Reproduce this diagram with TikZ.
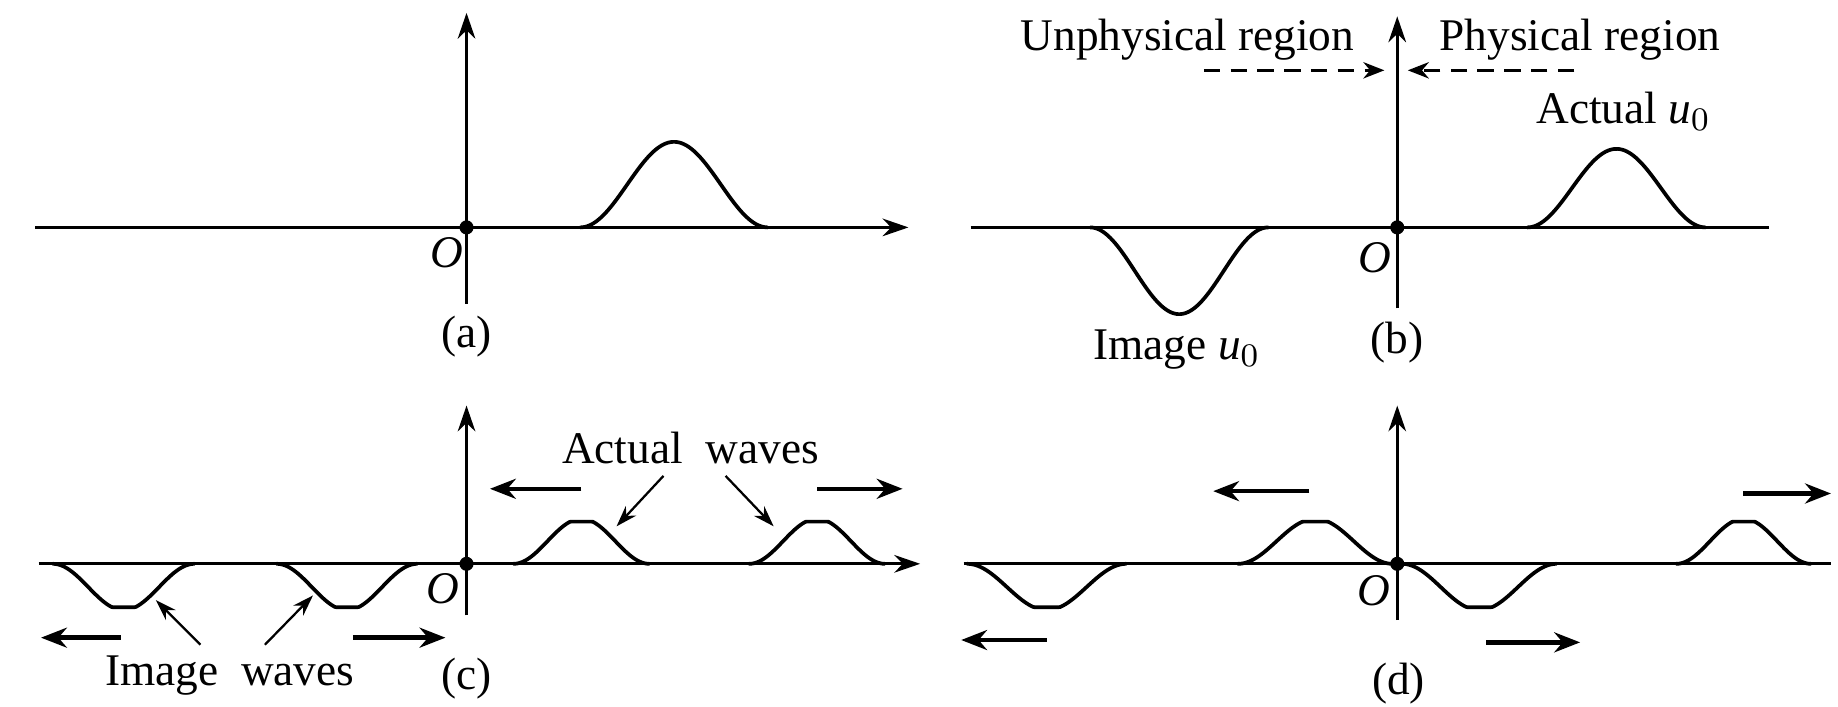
\documentclass[tikz,border=0pt]{standalone}
\usepackage{fontspec}
\setmainfont{Liberation Serif}
\usetikzlibrary{arrows.meta}
\newcommand{\bellwave}[4]{\draw[wave] plot[domain=0:1,samples=80] ({#1+(#2-#1)*\x},{#3-(#4)*(1-cos(360*\x))/2});}
\newcommand{\flatwave}[4]{\draw[wave] plot[domain=0:1,samples=100] ({#1+(#2-#1)*\x},{#3-(#4)*min(1,1.07*(1-cos(360*\x))/2)});}
\begin{document}
\begin{tikzpicture}[x=0.1mm,y=-0.1mm,
  axis/.style={line width=0.75pt},
  axarrow/.style={line width=0.75pt,-{Stealth[length=2.2mm,width=1.5mm]}},
  wave/.style={line width=0.9pt,line join=round,line cap=round},
  mv/.style={line width=1.1pt,-{Stealth[length=2.2mm,width=1.7mm]}},
  ptr/.style={line width=0.55pt,-{Stealth[length=1.8mm,width=1.2mm]}},
  dashar/.style={line width=0.6pt,dash pattern=on 4pt off 2.5pt,-{Stealth[length=1.8mm,width=1.4mm]}},
  lbl/.style={font=\fontsize{11}{13}\selectfont,inner sep=1pt},
  olbl/.style={font=\fontsize{11}{13}\selectfont\itshape,inner sep=1pt},
  dot/.style={circle,fill=black,inner sep=0pt,minimum size=1.2mm}]
\useasboundingbox (0,0) rectangle (1568,603);

% ---------- (a) ----------
\coordinate (aL) at (30,194);
\coordinate (aR) at (775,194);
\coordinate (aB) at (398,259);
\coordinate (aT) at (398,11);
\draw[axarrow] (aL) -- (aR);
\draw[axarrow] (aB) -- (aT);
\node[dot] (aO) at (398,194) {};
\node[olbl] (aOl) at (381,216) {O};
\bellwave{495}{655}{194}{73}
\node[lbl] (acap) at (398,287) {(a)};

% ---------- (b) ----------
\coordinate (bL) at (828,194);
\coordinate (bR) at (1509,194);
\coordinate (bB) at (1192,263);
\coordinate (bT) at (1192,14);
\draw[axis] (bL) -- (bR);
\draw[axarrow] (bB) -- (bT);
\node[dot] (bO) at (1192,194) {};
\node[olbl] (bOl) at (1173,220) {O};
\bellwave{1303}{1455}{194}{67}
\bellwave{930}{1082}{194}{-74}
\node[lbl] (unph) at (1013,34) {Unphysical region};
\node[lbl] (phys) at (1348,34) {Physical region};
\coordinate (dl1) at (1027,60);
\coordinate (dl2) at (1181,60);
\coordinate (dr1) at (1343,60);
\coordinate (dr2) at (1201,60);
\draw[dashar] (dl1) -- (dl2);
\draw[dashar] (dr1) -- (dr2);
\node[lbl] (actu) at (1385,95) {Actual \textit{u}$_0$};
\node[lbl] (imgu) at (1004,298) {Image \textit{u}$_0$};
\node[lbl] (bcap) at (1192,292) {(b)};

% ---------- (c) ----------
\coordinate (cL) at (33,481);
\coordinate (cR) at (785,481);
\coordinate (cB) at (398,525);
\coordinate (cT) at (398,346);
\draw[axarrow] (cL) -- (cR);
\draw[axarrow] (cB) -- (cT);
\node[dot] (cO) at (398,481) {};
\node[olbl] (cOl) at (378,502) {O};
\flatwave{438}{554}{481}{36}
\flatwave{639}{755}{481}{36}
\flatwave{45}{166}{481}{-37}
\flatwave{236}{356}{481}{-37}
\coordinate (c1a) at (496,417); \coordinate (c1b) at (418,417);
\coordinate (c2a) at (697,417); \coordinate (c2b) at (770,417);
\coordinate (c3a) at (103,544); \coordinate (c3b) at (35,544);
\coordinate (c4a) at (301,544); \coordinate (c4b) at (380,544);
\draw[mv] (c1a) -- (c1b);
\draw[mv] (c2a) -- (c2b);
\draw[mv] (c3a) -- (c3b);
\draw[mv] (c4a) -- (c4b);
\node[lbl] (actw) at (589,382) {Actual\ \ waves};
\coordinate (p1a) at (566,406); \coordinate (p1b) at (526,449);
\coordinate (p2a) at (619,406); \coordinate (p2b) at (660,449);
\draw[ptr] (p1a) -- (p1b);
\draw[ptr] (p2a) -- (p2b);
\node[lbl] (imgw) at (196,576) {Image\ \ waves};
\coordinate (q1a) at (171,550); \coordinate (q1b) at (133,512);
\coordinate (q2a) at (226,550); \coordinate (q2b) at (267,508);
\draw[ptr] (q1a) -- (q1b);
\draw[ptr] (q2a) -- (q2b);
\node[lbl] (ccap) at (398,579) {(c)};

% ---------- (d) ----------
\coordinate (dL) at (822,481);
\coordinate (dR) at (1562,481);
\coordinate (dB) at (1192,529);
\coordinate (dT) at (1192,346);
\draw[axis] (dL) -- (dR);
\draw[axarrow] (dB) -- (dT);
\node[dot] (dO) at (1192,481) {};
\node[olbl] (dOl) at (1172,504) {O};
\flatwave{825}{961}{481}{-37}
\flatwave{1056}{1188}{481}{36}
\flatwave{1196}{1328}{481}{-37}
\flatwave{1430}{1545}{481}{36}
\coordinate (e1a) at (1117,419); \coordinate (e1b) at (1035,419);
\coordinate (e2a) at (1487,421); \coordinate (e2b) at (1562,421);
\coordinate (e3a) at (893,546); \coordinate (e3b) at (820,546);
\coordinate (e4a) at (1268,548); \coordinate (e4b) at (1348,548);
\draw[mv] (e1a) -- (e1b);
\draw[mv] (e2a) -- (e2b);
\draw[mv] (e3a) -- (e3b);
\draw[mv] (e4a) -- (e4b);
\node[lbl] (dcap) at (1193,583) {(d)};
\end{tikzpicture}
\end{document}
